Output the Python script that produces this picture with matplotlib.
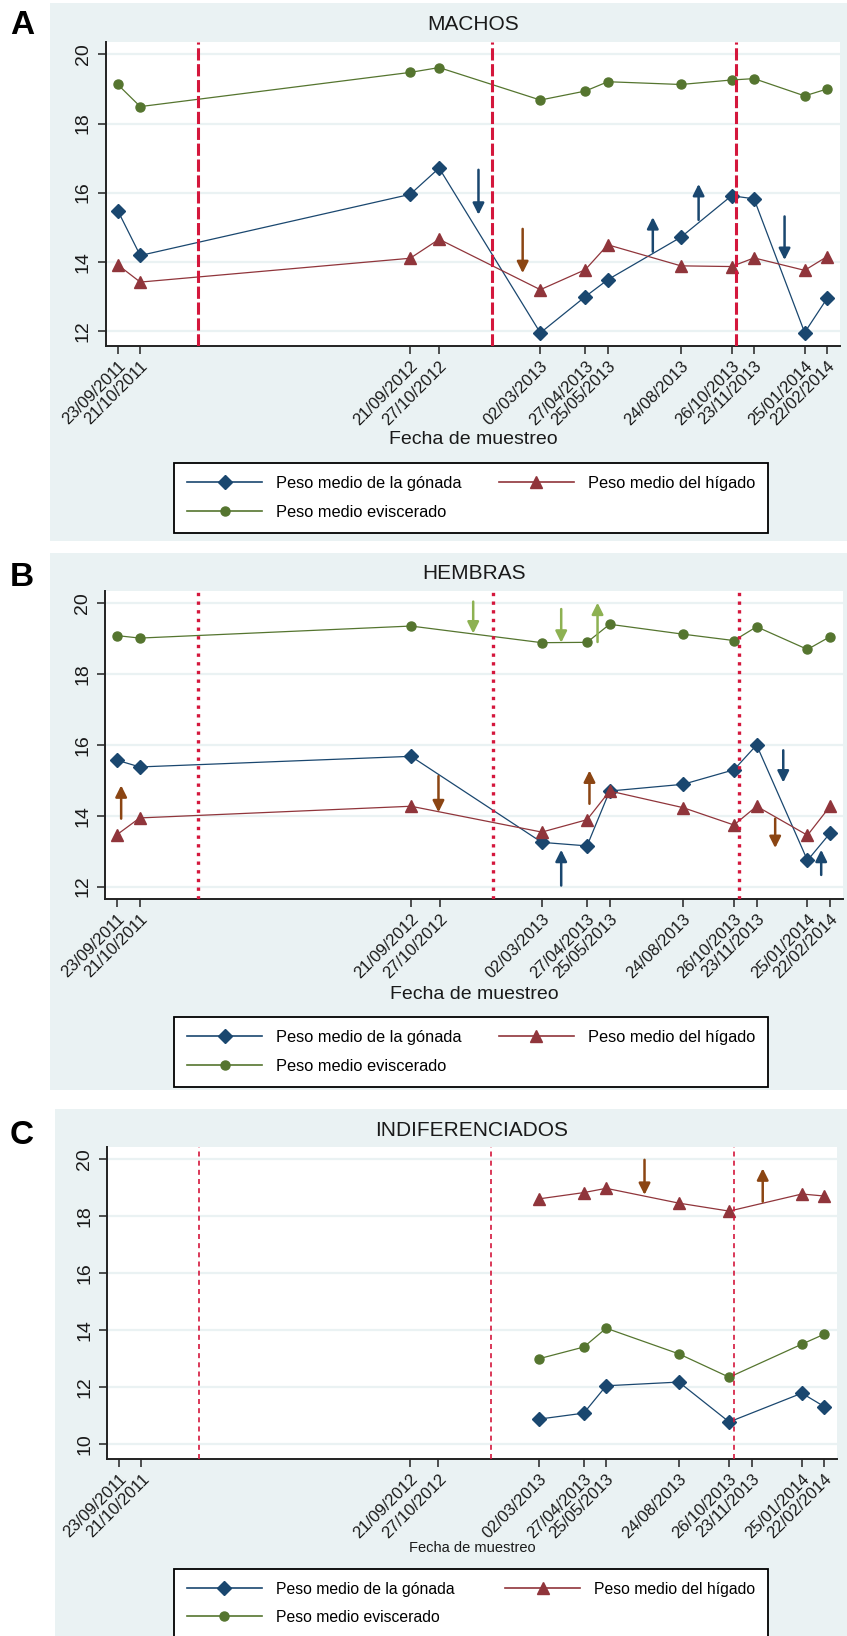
import numpy as np
import pandas as pd
import matplotlib
matplotlib.use('Agg')
import matplotlib.pyplot as plt
import matplotlib.dates as mdates
from matplotlib.patches import Rectangle
from matplotlib.lines import Line2D

plt.rcParams['font.family'] = ['Liberation Sans', 'DejaVu Sans']

# fechas de muestreo (eje x) y cortes entre temporadas
fechas = ['23/09/2011', '21/10/2011', '21/09/2012', '27/10/2012', '02/03/2013', '27/04/2013',
          '25/05/2013', '24/08/2013', '26/10/2013', '23/11/2013', '25/01/2014', '22/02/2014']
cortes = ['01/01/2012', '01/01/2013', '01/11/2013']

etiquetas = {'gonada': 'Peso medio de la gónada',
             'higado': 'Peso medio del hígado',
             'eviscerado': 'Peso medio eviscerado'}

# MACHOS
machos_gonada = [15.48, 14.18, 15.95, 16.71, 11.94, 12.99, 13.48, 14.71, 15.91, 15.82, 11.95, 12.94]
machos_higado = [13.91, 13.41, 14.10, 14.65, 13.19, 13.77, 14.49, 13.88, 13.86, 14.11, 13.75, 14.15]
machos_eviscerado = [19.13, 18.49, 19.48, 19.62, 18.68, 18.94, 19.21, 19.13, 19.26, 19.30, 18.80, 19.00]

machos_fl_var = ['gonada', 'higado', 'gonada', 'gonada', 'gonada']
machos_fl_fecha = ['15/12/2012', '08/02/2013', '20/07/2013', '15/09/2013', '31/12/2013']
machos_fl_desde = [16.66, 14.95, 14.29, 15.21, 15.31]
machos_fl_hasta = [15.36, 13.67, 15.29, 16.25, 14.05]

# HEMBRAS (sin muestra el 27/10/2012)
hembras_gonada = [15.57, 15.38, 15.68, None, 13.25, 13.15, 14.70, 14.89, 15.30, 16.00, 12.74, 13.51]
hembras_higado = [13.47, 13.94, 14.27, None, 13.54, 13.89, 14.70, 14.23, 13.74, 14.27, 13.45, 14.27]
hembras_eviscerado = [19.09, 19.02, 19.36, None, 18.89, 18.90, 19.41, 19.13, 18.95, 19.34, 18.70, 19.06]

hembras_fl_var = ['higado', 'higado', 'eviscerado', 'gonada', 'eviscerado',
                  'higado', 'eviscerado', 'higado', 'gonada', 'gonada']
hembras_fl_fecha = ['28/09/2011', '25/10/2012', '07/12/2012', '26/03/2013', '26/03/2013',
                    '30/04/2013', '10/05/2013', '16/12/2013', '26/12/2013', '11/02/2014']
hembras_fl_desde = [13.92, 15.12, 20.05, 12.03, 19.84, 14.34, 18.91, 13.92, 15.85, 12.33]
hembras_fl_hasta = [14.86, 14.10, 19.15, 13.04, 18.89, 15.28, 20.02, 13.09, 14.94, 13.04]

# INDIFERENCIADOS
indif_gonada = [None, None, None, None, 10.88, 11.09, 12.05, 12.18, 10.78, None, 11.79, 11.32]
indif_higado = [None, None, None, None, 18.61, 18.83, 18.98, 18.46, 18.18, None, 18.78, 18.71]
indif_eviscerado = [None, None, None, None, 13.00, 13.41, 14.07, 13.17, 12.35, None, 13.51, 13.86]

indif_fl_var = ['higado', 'higado']
indif_fl_fecha = ['12/07/2013', '07/12/2013']
indif_fl_desde = [19.98, 18.51]
indif_fl_hasta = [18.75, 19.68]

color = {'gonada': '#1a476f', 'higado': '#90353b', 'eviscerado': '#55752f'}
color_flecha = {'gonada': '#1a476f', 'higado': '#8b4513', 'eviscerado': '#8db152'}
marcador = {'gonada': ('D', 7.5), 'higado': ('^', 8), 'eviscerado': ('o', 6.5)}
FONDO = '#eaf2f3'

W, H = 847, 1636
fig = plt.figure(figsize=(W / 100, H / 100), dpi=100)


def a_num(lista):
    return mdates.date2num(pd.to_datetime(lista, format='%d/%m/%Y'))


t = a_num(fechas)


def rect(x0, y0, x1, y1):
    return [x0 / W, 1 - y1 / H, (x1 - x0) / W, (y1 - y0) / H]


def panel(letra, titulo, datos, fl, fondo, caja, ylim, yticks, tit_y, xlab_y,
          leg_top, ls_corte, lw_corte, tam_xlab, tam_leg):
    r = rect(*fondo)
    fig.add_artist(Rectangle(r[:2], r[2], r[3], transform=fig.transFigure,
                             facecolor=FONDO, edgecolor='none', zorder=0))
    ax = fig.add_axes(rect(*caja))
    ax.set_facecolor('white')

    for var in ['gonada', 'higado', 'eviscerado']:
        y = np.array(datos[var], dtype=float)
        m = ~np.isnan(y)
        mk, ms = marcador[var]
        ax.plot(t[m], y[m], color=color[var], lw=0.9, marker=mk, ms=ms,
                mec=color[var], mfc=color[var], zorder=3)

    for c in a_num(cortes):
        ax.axvline(c, color='#d4173c', ls=ls_corte, lw=lw_corte, zorder=4)

    var_f, fecha_f, desde, hasta = fl
    for v, xf, y0, y1 in zip(var_f, a_num(fecha_f), desde, hasta):
        ax.annotate('', xy=(xf, y1), xytext=(xf, y0),
                    arrowprops=dict(arrowstyle='-|>', color=color_flecha[v], lw=1.8,
                                    mutation_scale=17, shrinkA=0, shrinkB=0), zorder=5)

    ax.set_xlim(t[0] - 15, t[-1] + 16)
    ax.set_ylim(*ylim)
    ax.set_yticks(yticks)
    ax.set_yticklabels([str(v) for v in yticks])
    ax.yaxis.grid(True, color=FONDO, lw=1.6)
    ax.set_axisbelow(True)
    ax.set_xticks(t)
    ax.set_xticklabels(fechas, rotation=45, ha='right', va='top', rotation_mode='anchor')

    for s in ['top', 'right']:
        ax.spines[s].set_visible(False)
    for s in ['left', 'bottom']:
        ax.spines[s].set_color('#222222')
        ax.spines[s].set_linewidth(1.4)
    ax.tick_params(axis='x', length=6, width=1.1, color='#222222', labelsize=12,
                   labelcolor='#1a1a1a', pad=3)
    ax.tick_params(axis='y', length=6, width=1.1, color='#222222', labelsize=14,
                   labelcolor='#1a1a1a', labelrotation=90, pad=4)
    for lab in ax.get_yticklabels():
        lab.set_va('center')

    xc = (caja[0] + caja[2]) / 2 / W
    fig.text(22 / W, 1 - tit_y[1] / H, letra, fontsize=24, fontweight='bold',
             ha='center', va='center')
    fig.text(xc, 1 - tit_y[0] / H, titulo, fontsize=15, ha='center', va='center', color='#1a1a1a')
    fig.text(xc, 1 - xlab_y / H, 'Fecha de muestreo', fontsize=tam_xlab, ha='center',
             va='center', color='#1a1a1a')

    # orden por columnas para que quede gónada | hígado arriba y eviscerado debajo
    orden = ['gonada', 'eviscerado', 'higado']
    handles = [Line2D([], [], color=color[v], lw=1.2, marker=marcador[v][0],
                      ms=marcador[v][1], mec=color[v]) for v in orden]
    fs_px = tam_leg * 100 / 72
    leg = fig.legend(handles, [etiquetas[v] for v in orden], ncol=2, mode='expand',
                     loc='upper left', bbox_to_anchor=(174 / W, 1 - (leg_top + 69) / H, 594 / W, 69 / H),
                     fontsize=tam_leg, frameon=True, fancybox=False, edgecolor='black',
                     framealpha=1, borderpad=0.8, labelspacing=0.83,
                     handlelength=75 / fs_px, handletextpad=14 / fs_px, borderaxespad=0)
    leg.get_frame().set_linewidth(1.3)
    return ax


panel('A', 'MACHOS',
      {'gonada': machos_gonada, 'higado': machos_higado, 'eviscerado': machos_eviscerado},
      (machos_fl_var, machos_fl_fecha, machos_fl_desde, machos_fl_hasta),
      (50, 3, 847, 541), (105.7, 42, 840, 346), (11.56, 20.36), [12, 14, 16, 18, 20],
      (24, 25), 440, 463, (0, (4, 1.2)), 2.2, 14, 11.75)

panel('B', 'HEMBRAS',
      {'gonada': hembras_gonada, 'higado': hembras_higado, 'eviscerado': hembras_eviscerado},
      (hembras_fl_var, hembras_fl_fecha, hembras_fl_desde, hembras_fl_hasta),
      (50, 553, 847, 1090), (105, 591, 843, 899), (11.65, 20.35), [12, 14, 16, 18, 20],
      (574, 578), 994, 1017, (0, (1, 1.6)), 2.4, 14, 11.75)

panel('C', 'INDIFERENCIADOS',
      {'gonada': indif_gonada, 'higado': indif_higado, 'eviscerado': indif_eviscerado},
      (indif_fl_var, indif_fl_fecha, indif_fl_desde, indif_fl_hasta),
      (55, 1109, 847, 1636), (107, 1147, 837, 1459), (9.48, 20.43), [10, 12, 14, 16, 18, 20],
      (1130, 1135), 1548, 1569, (0, (3, 2.5)), 1.2, 10.5, 11.3)

fig.savefig('out.png', dpi=100, facecolor='white')
